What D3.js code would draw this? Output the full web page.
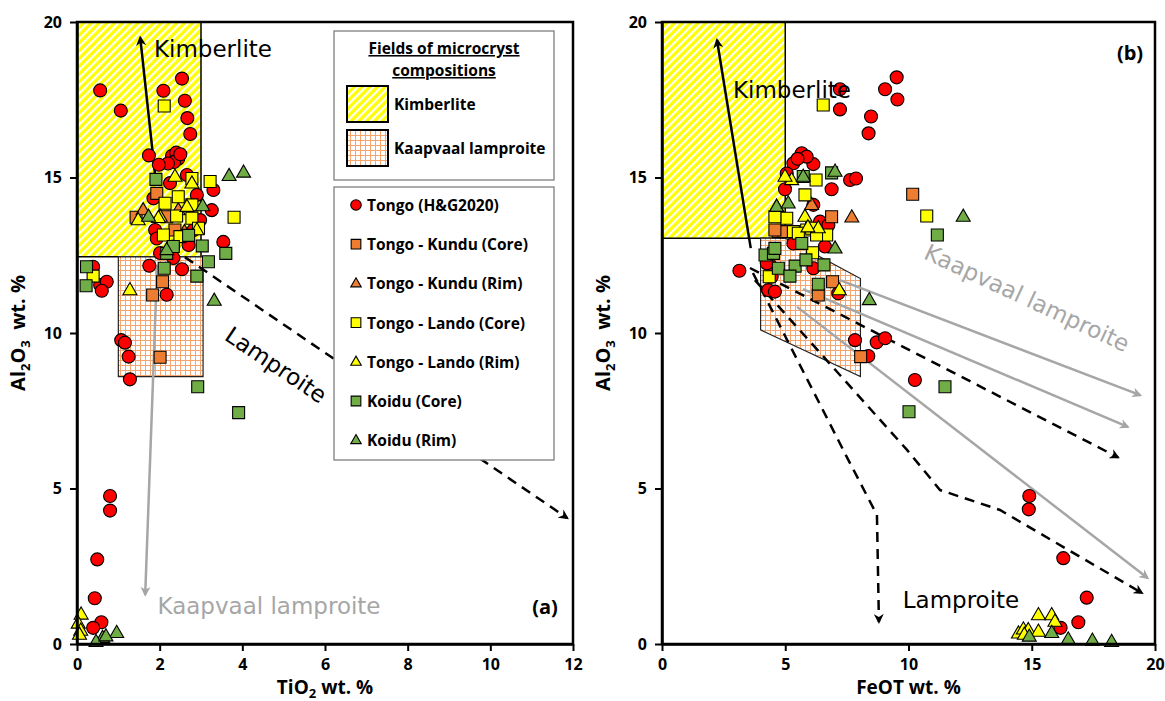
<!DOCTYPE html>
<html>
<head>
<meta charset="utf-8">
<script src="https://cdn.jsdelivr.net/npm/d3@7"></script>
<style>
  body { margin: 0; background: #fff; }
  svg { display: block; }
</style>
</head>
<body>
<div id="chart"></div>
<script>
// ---- data, panel (a): [TiO2, Al2O3] ----
const tongoHG_a = [[0.56,17.8],[1.06,17.15],[2.09,17.79],[2.54,18.18],[2.61,17.47],[2.67,16.91],[2.74,16.4],[1.74,15.71],
  [2.3,15.7],[2.4,15.8],[2.45,15.6],[2.35,15.5],[2.5,15.75],[2.2,15.45],[1.98,15.41],[3.3,14.6],[3.26,13.95],[3.54,12.93],
  [1.75,12.16],[2.54,12.05],[1.28,8.51],[1.07,9.77],[1.16,9.69],[1.25,9.24],[2.17,11.23],[0.39,12.13],[0.56,11.54],
  [0.72,11.65],[0.6,11.36],[0.8,4.76],[0.8,4.29],[0.49,2.72],[0.43,1.47],[0.59,0.7],[0.39,0.52],[1.85,14.33],[1.89,13.31],
  [1.93,13.04],[2.25,14.82],[2.66,15.08],[2.9,14.44],[2.98,13.63],[2.82,13.31],[2.33,12.78],[2.7,12.83],[2.33,12.41],[2.01,12.57]];
const kunduCore_a = [[1.93,14.49],[1.43,13.72],[2.17,13.74],[2.37,13.31],[2.07,11.65],[1.83,11.22],[2.01,9.22]];
const kunduRim_a = [[1.6,13.95],[2.45,13.95],[2.6,13.25]];
const landoCore_a = [[2.11,17.3],[3.22,14.87],[3.8,13.72],[2.78,14.97],[2.45,14.38],[2.13,14.17],[2.41,13.76],[2.78,14.12],
  [2.78,13.69],[2.09,13.15],[2.49,13.1],[2.94,13.37],[0.39,11.83]];
const landoRim_a = [[2.37,15.03],[2.78,14.81],[2.66,14.06],[2.01,13.74],[1.48,13.63],[2.9,13.31],[1.28,11.38],[1.97,13.7],
  [0.1,0.95],[0.03,0.66],[0.09,0.43],[0.06,0.3]];
const koiduCore_a = [[1.91,14.94],[2.7,13.14],[3.03,12.8],[3.6,12.56],[3.18,12.29],[2.9,11.83],[2.11,12.08],[2.17,12.56],
  [2.33,12.78],[0.23,12.13],[0.22,11.52],[2.92,8.27],[3.91,7.44]];
const koiduRim_a = [[3.68,15.05],[4.03,15.16],[3.32,11.04],[1.73,13.74],[3.04,14.08],[2.17,12.67],[0.96,0.36],[0.62,0.2],
  [0.46,0.07],[0.7,0.25]];

// ---- data, panel (b): [FeOT, Al2O3] ----
const tongoHG_b = [[9.52,18.22],[9.05,17.84],[9.55,17.51],[7.22,17.84],[7.22,17.19],[8.48,16.96],[8.38,16.42],[3.14,12.0],
  [5.67,15.78],[5.33,15.46],[6.14,15.43],[5.87,15.67],[5.5,15.6],[5.06,15.13],[7.63,14.92],[7.87,14.97],[6.88,14.62],
  [4.99,14.62],[6.14,14.12],[6.41,13.58],[6.75,13.47],[5.33,12.88],[6.61,12.78],[6.14,12.08],[4.38,12.19],[4.45,11.81],
  [4.31,11.38],[4.58,11.33],[7.15,11.28],[4.25,12.24],[7.83,9.77],[8.71,9.7],[9.05,9.83],[8.37,9.26],[10.26,8.49],
  [14.9,4.76],[14.88,4.33],[16.28,2.76],[17.23,1.49],[16.89,0.7],[16.17,0.52]];
const kunduCore_b = [[10.17,14.46],[6.88,13.74],[4.72,13.26],[4.95,13.26],[6.92,11.65],[6.34,11.22],[8.06,9.24],[4.58,13.31]];
const kunduRim_b = [[7.7,13.72],[6.07,14.12]];
const landoCore_b = [[6.54,17.33],[10.74,13.76],[6.25,14.92],[5.8,14.44],[5.06,13.69],[4.58,13.74],[5.33,13.26],[5.87,13.31],
  [6.07,13.37],[6.68,13.15],[6.27,13.15],[5.53,13.21],[4.35,11.81],[6.11,12.58]];
const landoRim_b = [[5.26,14.92],[4.65,14.06],[5.8,13.74],[6.34,13.37],[7.19,11.38],[5.92,13.4],[4.99,15.03],
  [14.46,0.34],[14.66,0.47],[14.86,0.45],[15.27,0.93],[15.81,0.93],[15.94,0.72],[15.27,0.4],[14.7,0.3]];
const koiduCore_b = [[6.88,15.15],[5.73,15.03],[4.18,12.51],[4.52,12.56],[5.67,12.88],[4.72,12.08],[5.4,12.15],[5.84,12.35],
  [6.57,12.19],[5.19,11.83],[6.34,11.57],[4.58,12.72],[11.17,13.15],[11.48,8.27],[10.02,7.47]];
const koiduRim_b = [[12.22,13.74],[8.41,11.06],[7.02,12.72],[7.02,15.19],[4.65,14.06],[5.12,14.17],[5.73,15.03],
  [14.9,0.24],[15.81,0.36],[16.48,0.15],[17.46,0.11],[18.24,0.07]];

// ---- fields and trend arrows (data units) ----
const kimbField_a = [[0,20],[3,20],[3,12.45],[0,12.45]];
const lampField_a = [[1,12.45],[3.05,12.45],[3.05,8.6],[1,8.6]];
const kimbField_b = [[0,20],[5,20],[5,13.05],[0,13.05]];
const lampField_b = [[4,13.05],[5,13.05],[8.05,11.75],[8.05,8.6],[4,10.1]];

const kimbArrow_a = [[1.89,15.08],[1.53,19.5]];
const kaapArrow_a = [[1.94,12.2],[1.65,1.58]];
const lampArrow_a = [[2.61,12.44],[11.86,4.05]];
const kimbArrow_b = [[3.6,12.73],[2.23,19.42]];
const kaapArrows_b = [
  [[7.22,11.7],[19.4,8.0]],
  [[5.72,11.41],[18.9,6.98]],
  [[5.48,10.84],[19.7,2.12]]
];
const lampArrows_b = [
  [[3.57,12.09],[18.5,6.0]],
  [[3.77,11.7],[9.94,6.24],[11.28,4.95],[13.71,4.31],[19.47,1.64]],
  [[3.69,11.93],[7.5,6.01],[8.72,4.15],[8.8,0.71]]
];

const tiTicks = [0, 2, 4, 6, 8, 10, 12];
const feTicks = [0, 5, 10, 15, 20];
const alTicks = [0, 5, 10, 15, 20];

const seriesNames = ['Tongo (H&G2020)', 'Tongo - Kundu (Core)', 'Tongo - Kundu (Rim)', 'Tongo - Lando (Core)',
  'Tongo - Lando (Rim)', 'Koidu (Core)', 'Koidu (Rim)'];
const seriesColors = ['#ff0000', '#ed7d31', '#ed7d31', '#ffff00', '#ffff00', '#70ad47', '#70ad47'];
const seriesShapes = ['circle', 'square', 'triangle', 'square', 'triangle', 'square', 'triangle'];

const W = 1165, H = 701;
const svg = d3.select('#chart').append('svg').attr('width', W).attr('height', H)
  .style('font-family', '"Open Sans", sans-serif');

const y = d3.scaleLinear().domain([0, 20]).range([644, 22]);
const xTi = d3.scaleLinear().domain([0, 12]).range([77, 573]);
const xFe = d3.scaleLinear().domain([0, 20]).range([662, 1155]);

// patterns
const defs = svg.append('defs');
const kimb = defs.append('pattern').attr('id', 'kimb').attr('patternUnits', 'userSpaceOnUse')
  .attr('width', 5.5).attr('height', 5.5).attr('patternTransform', 'rotate(45)');
kimb.append('rect').attr('width', 5.5).attr('height', 5.5).attr('fill', '#ffff00');
kimb.append('rect').attr('width', 2.2).attr('height', 5.5).attr('fill', '#ffffff');
const lamp = defs.append('pattern').attr('id', 'lamp').attr('patternUnits', 'userSpaceOnUse')
  .attr('width', 5).attr('height', 5);
lamp.append('rect').attr('width', 5).attr('height', 5).attr('fill', '#ffffff');
lamp.append('path').attr('d', 'M0,0.5H5M0.5,0V5').attr('stroke', '#f4a46c').attr('stroke-width', 1);

function addMarker(id, color) {
  defs.append('marker').attr('id', id).attr('viewBox', '0 0 10 10')
    .attr('refX', 8).attr('refY', 5).attr('markerWidth', 4).attr('markerHeight', 4)
    .attr('orient', 'auto')
    .append('path').attr('d', 'M0,0 L10,5 L0,10 L3,5 z').attr('fill', color);
}
addMarker('arrBlack', '#000');
addMarker('arrGray', '#a6a6a6');

function shapePath(shape, s) {
  if (shape === 'circle') return d3.symbol(d3.symbolCircle, Math.PI * s * s / 4)();
  if (shape === 'square') return d3.symbol(d3.symbolSquare, s * s * 0.85)();
  const h = s * 0.87;
  return `M0,${-h * 0.62}L${s / 2},${h * 0.38}L${-s / 2},${h * 0.38}Z`;
}

function drawPanel(x, ticks, fields, arrows, series, xTitle) {
  const g = svg.append('g');
  const line = d3.line().x(d => x(d[0])).y(d => y(d[1]));

  g.append('path').datum(fields.kimb).attr('d', d => line(d) + 'Z')
    .attr('fill', 'url(#kimb)').attr('stroke', '#000').attr('stroke-width', 1.5);
  g.append('path').datum(fields.lamp).attr('d', d => line(d) + 'Z')
    .attr('fill', 'url(#lamp)').attr('stroke', '#222').attr('stroke-width', 1.2);

  arrows.gray.forEach(a => g.append('path').datum(a).attr('d', line).attr('fill', 'none')
    .attr('stroke', '#a6a6a6').attr('stroke-width', 2.5).attr('marker-end', 'url(#arrGray)'));
  arrows.dashed.forEach(a => g.append('path').datum(a).attr('d', line.curve(d3.curveMonotoneX ? d3.curveLinear : d3.curveLinear))
    .attr('fill', 'none').attr('stroke', '#000').attr('stroke-width', 2.5)
    .attr('stroke-dasharray', '10,7').attr('marker-end', 'url(#arrBlack)'));
  arrows.solid.forEach(a => g.append('path').datum(a).attr('d', line).attr('fill', 'none')
    .attr('stroke', '#000').attr('stroke-width', 2.5).attr('marker-end', 'url(#arrBlack)'));

  series.forEach((pts, i) => {
    g.append('g').selectAll('path').data(pts).join('path')
      .attr('transform', d => `translate(${x(d[0])},${y(d[1])})`)
      .attr('d', shapePath(seriesShapes[i], seriesShapes[i] === 'triangle' ? 14 : 13))
      .attr('fill', seriesColors[i]).attr('stroke', '#000').attr('stroke-width', 1.1);
  });

  // frame
  g.append('rect').attr('x', x.range()[0]).attr('y', y.range()[1])
    .attr('width', x.range()[1] - x.range()[0]).attr('height', y.range()[0] - y.range()[1])
    .attr('fill', 'none').attr('stroke', '#000').attr('stroke-width', 2.5);

  const xa = g.append('g').attr('transform', `translate(0,${y(0)})`)
    .call(d3.axisBottom(x).tickValues(ticks).tickSize(7).tickSizeOuter(0).tickPadding(8));
  const ya = g.append('g').attr('transform', `translate(${x(0)},0)`)
    .call(d3.axisLeft(y).tickValues(alTicks).tickSize(7).tickSizeOuter(0).tickPadding(8));
  [xa, ya].forEach(a => {
    a.select('.domain').attr('stroke-width', 2.5);
    a.selectAll('.tick line').attr('stroke-width', 2);
    a.selectAll('.tick text').attr('font-size', 16).attr('font-weight', 700)
      .attr('font-family', '"Open Sans", sans-serif').attr('fill', '#000');
  });

  const mid = (x.range()[0] + x.range()[1]) / 2;
  const xt = g.append('text').attr('x', mid).attr('y', 694).attr('text-anchor', 'middle')
    .attr('font-size', 19).attr('font-weight', 700);
  xTitle(xt);

  const yt = g.append('text').attr('transform', `translate(${x(0) - 52},${y(10)}) rotate(-90)`)
    .attr('text-anchor', 'middle').attr('font-size', 20).attr('font-weight', 700);
  yt.append('tspan').text('Al');
  yt.append('tspan').text('2').attr('font-size', 13).attr('dy', 5);
  yt.append('tspan').text('O').attr('dy', -5);
  yt.append('tspan').text('3').attr('font-size', 13).attr('dy', 5);
  yt.append('tspan').text('\u00a0\u00a0wt. %').attr('dy', -5);
  return g;
}

const serA = [tongoHG_a, kunduCore_a, kunduRim_a, landoCore_a, landoRim_a, koiduCore_a, koiduRim_a];
const serB = [tongoHG_b, kunduCore_b, kunduRim_b, landoCore_b, landoRim_b, koiduCore_b, koiduRim_b];

const gA = drawPanel(xTi, tiTicks, { kimb: kimbField_a, lamp: lampField_a },
  { gray: [kaapArrow_a], dashed: [lampArrow_a], solid: [kimbArrow_a] }, serA,
  t => { t.append('tspan').text('TiO'); t.append('tspan').text('2').attr('font-size', 13).attr('dy', 4);
         t.append('tspan').text(' wt. %').attr('dy', -4); });

const gB = drawPanel(xFe, feTicks, { kimb: kimbField_b, lamp: lampField_b },
  { gray: kaapArrows_b, dashed: lampArrows_b, solid: [kimbArrow_b] }, serB,
  t => t.text('FeOT wt. %'));

// annotation text
const annot = (g, txt, cx, cy, rot, color, size) => g.append('text')
  .attr('transform', `translate(${cx},${cy}) rotate(${rot})`)
  .attr('text-anchor', 'middle').attr('dominant-baseline', 'central')
  .attr('font-family', '"DejaVu Sans", sans-serif').attr('font-size', size || 23)
  .attr('fill', color).text(txt);

annot(gA, 'Kimberlite', 213, 49, 0, '#000');
annot(gA, 'Lamproite', 276, 365, 34, '#000');
annot(gA, 'Kaapvaal lamproite', 269, 606, 0, '#a6a6a6');
annot(gB, 'Kimberlite', 792, 90, 0, '#000');
annot(gB, 'Lamproite', 961, 600, 0, '#000');
annot(gB, 'Kaapvaal lamproite', 1027, 298, 25, '#a6a6a6');

gA.append('text').attr('x', 545).attr('y', 606).attr('text-anchor', 'middle').attr('dominant-baseline', 'central')
  .attr('font-size', 20).attr('font-weight', 700).text('(a)');
gB.append('text').attr('x', 1130).attr('y', 52).attr('text-anchor', 'middle').attr('dominant-baseline', 'central')
  .attr('font-size', 20).attr('font-weight', 700).text('(b)');

// legend boxes (panel a)
const lg = svg.append('g');
lg.append('rect').attr('x', 334).attr('y', 31).attr('width', 220).attr('height', 149)
  .attr('fill', '#fff').attr('stroke', '#7f7f7f').attr('stroke-width', 1.3);
lg.append('text').attr('x', 444).attr('y', 54).attr('text-anchor', 'middle').attr('font-size', 15.5)
  .attr('font-weight', 700).attr('text-decoration', 'underline').text('Fields of microcryst');
lg.append('text').attr('x', 444).attr('y', 76).attr('text-anchor', 'middle').attr('font-size', 15.5)
  .attr('font-weight', 700).attr('text-decoration', 'underline').text('compositions');
[['url(#kimb)', 'Kimberlite', 86], ['url(#lamp)', 'Kaapvaal lamproite', 130]].forEach(([f, t, yy]) => {
  lg.append('rect').attr('x', 347).attr('y', yy).attr('width', 41).attr('height', 36)
    .attr('fill', f).attr('stroke', '#000').attr('stroke-width', 2);
  lg.append('text').attr('x', 394).attr('y', yy + 18).attr('dominant-baseline', 'central')
    .attr('font-size', 15.5).attr('font-weight', 700).text(t);
});

lg.append('rect').attr('x', 334).attr('y', 187).attr('width', 220).attr('height', 273)
  .attr('fill', '#fff').attr('stroke', '#7f7f7f').attr('stroke-width', 1.3);
seriesNames.forEach((name, i) => {
  const yy = 205 + i * 39.2;
  lg.append('path').attr('transform', `translate(356,${yy})`)
    .attr('d', shapePath(seriesShapes[i], 10.5))
    .attr('fill', seriesColors[i]).attr('stroke', '#000').attr('stroke-width', 1.1);
  lg.append('text').attr('x', 367).attr('y', yy).attr('dominant-baseline', 'central')
    .attr('font-size', 15.5).attr('font-weight', 700).text(name);
});
</script>
</body>
</html>
